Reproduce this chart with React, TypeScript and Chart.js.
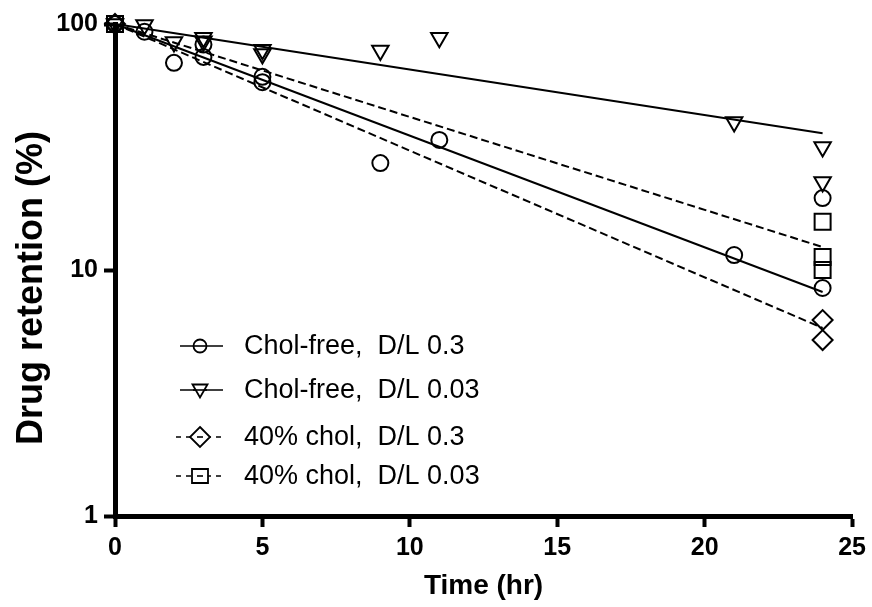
import React, { useEffect, useRef } from 'react';
import { Chart, registerables } from 'chart.js';

Chart.register(...registerables);

// ---- data ----
const xTicks = [0, 5, 10, 15, 20, 25];
const yTicks = [1, 10, 100];

const legendLabels = [
  'Chol-free,  D/L 0.3',
  'Chol-free,  D/L 0.03',
  '40% chol,  D/L 0.3',
  '40% chol,  D/L 0.03',
];

// Chol-free, D/L 0.3 (circles)
const cf03Time = [0, 1, 2, 3, 3, 5, 5, 9, 11, 21, 24, 24];
const cf03Ret = [100, 93, 69.5, 82.5, 73.5, 61, 58, 27.2, 33.8, 11.5, 19.6, 8.45];

// Chol-free, D/L 0.03 (triangles)
const cf003Time = [0, 1, 2, 3, 3, 5, 5, 9, 11, 21, 24, 24];
const cf003Ret = [100, 99, 84.5, 88, 85, 78.5, 75.5, 78, 88, 40, 31.6, 22.8];

// 40% chol, D/L 0.3 (diamonds)
const c403Time = [0, 24, 24];
const c403Ret = [100, 6.26, 5.19];

// 40% chol, D/L 0.03 (squares)
const c4003Time = [0, 24, 24, 24];
const c4003Ret = [100, 15.7, 11.3, 10.0];

// fitted curves (straight on the log axis)
const fitTime = [0, 24];
const cf03Fit = [100, 8.14];
const cf003Fit = [100, 36];
const c403Fit = [100, 5.81];
const c4003Fit = [100, 12.4];

const FONT = '"Liberation Sans", Arial, Helvetica, sans-serif';

const pts = (xs: number[], ys: number[]) => xs.map((x, i) => ({ x, y: ys[i] }));

function drawMarker(ctx: CanvasRenderingContext2D, kind: string, x: number, y: number) {
  ctx.beginPath();
  if (kind === 'circle') {
    ctx.arc(x, y, 6.5, 0, Math.PI * 2);
  } else if (kind === 'triangle') {
    ctx.moveTo(x - 7.5, y - 5.5);
    ctx.lineTo(x + 7.5, y - 5.5);
    ctx.lineTo(x, y + 7.5);
    ctx.closePath();
  } else if (kind === 'diamond') {
    ctx.moveTo(x, y - 10);
    ctx.lineTo(x + 10, y);
    ctx.lineTo(x, y + 10);
    ctx.lineTo(x - 10, y);
    ctx.closePath();
  } else {
    ctx.rect(x - 8, y - 7, 16, 14);
  }
  ctx.fillStyle = '#fff';
  ctx.fill();
  ctx.stroke();
}

const decorPlugin = {
  id: 'decor',
  afterDraw(chart: any) {
    const ctx: CanvasRenderingContext2D = chart.ctx;
    const ca = chart.chartArea;
    ctx.save();
    ctx.fillStyle = '#000';
    ctx.strokeStyle = '#000';

    // x title
    ctx.font = `bold 28px ${FONT}`;
    ctx.textAlign = 'center';
    ctx.textBaseline = 'alphabetic';
    ctx.fillText('Time (hr)', (ca.left + ca.right) / 2, 594);

    // y title
    ctx.save();
    ctx.translate(42, 288);
    ctx.rotate(-Math.PI / 2);
    ctx.font = `bold 36px ${FONT}`;
    ctx.textAlign = 'center';
    ctx.textBaseline = 'alphabetic';
    ctx.fillText('Drug retention (%)', 0, 0);
    ctx.restore();

    // legend
    const rows = [346, 390, 437, 476];
    const kinds = ['circle', 'triangle', 'diamond', 'square'];
    const dashed = [false, false, true, true];
    rows.forEach((ry, i) => {
      ctx.lineWidth = 1.6;
      ctx.setLineDash(dashed[i] ? [5, 5] : []);
      ctx.beginPath();
      ctx.moveTo(dashed[i] ? 176 : 180, ry);
      ctx.lineTo(dashed[i] ? 222 : 223, ry);
      ctx.stroke();
      ctx.setLineDash([]);
      ctx.lineWidth = 1.8;
      drawMarker(ctx, kinds[i], 200, ry);
      if (dashed[i]) {
        ctx.lineWidth = 1.6;
        ctx.beginPath();
        ctx.moveTo(197, ry);
        ctx.lineTo(203, ry);
        ctx.stroke();
      } else {
        ctx.lineWidth = 1.6;
        ctx.beginPath();
        ctx.moveTo(193, ry);
        ctx.lineTo(207, ry);
        ctx.stroke();
      }
      ctx.fillStyle = '#000';
      ctx.font = `27px ${FONT}`;
      ctx.textAlign = 'left';
      ctx.textBaseline = 'middle';
      ctx.fillText(legendLabels[i], 244, ry + 1);
    });
    ctx.restore();
  },
};

export default function App() {
  const ref = useRef<HTMLCanvasElement | null>(null);

  useEffect(() => {
    if (!ref.current) return;
    const markerBase = {
      showLine: false,
      borderColor: '#000',
      backgroundColor: 'rgba(0,0,0,0)',
      pointBorderColor: '#000',
      pointBackgroundColor: 'rgba(0,0,0,0)',
      pointBorderWidth: 2,
      clip: false as any,
    };
    const fitBase = {
      showLine: true,
      borderColor: '#000',
      borderWidth: 2,
      pointRadius: 0,
      pointHoverRadius: 0,
      fill: false,
      clip: false as any,
    };
    const chart = new Chart(ref.current, {
      type: 'scatter',
      data: {
        datasets: [
          { ...markerBase, label: legendLabels[0], data: pts(cf03Time, cf03Ret), pointStyle: 'circle', pointRadius: 8 },
          { ...markerBase, label: legendLabels[1], data: pts(cf003Time, cf003Ret), pointStyle: 'triangle', pointRotation: 180, pointRadius: 9.5 },
          { ...markerBase, label: legendLabels[2], data: pts(c403Time, c403Ret), pointStyle: 'rectRot', pointRadius: 10 },
          { ...markerBase, label: legendLabels[3], data: pts(c4003Time, c4003Ret), pointStyle: 'rect', pointRadius: 11.3 },
          { ...fitBase, label: 'fit1', data: pts(fitTime, cf03Fit) },
          { ...fitBase, label: 'fit2', data: pts(fitTime, cf003Fit) },
          { ...fitBase, label: 'fit3', data: pts(fitTime, c403Fit), borderDash: [8, 4] },
          { ...fitBase, label: 'fit4', data: pts(fitTime, c4003Fit), borderDash: [8, 4] },
        ] as any,
      },
      options: {
        responsive: false,
        animation: false,
        events: [],
        layout: { padding: { left: 0, right: 19, top: 24, bottom: 0 } },
        plugins: {
          legend: { display: false },
          tooltip: { enabled: false },
        },
        scales: {
          x: {
            type: 'linear',
            min: 0,
            max: 25,
            afterBuildTicks: (s: any) => {
              s.ticks = xTicks.map((v) => ({ value: v }));
            },
            afterFit: (s: any) => {
              s.height = 91;
            },
            ticks: {
              color: '#000',
              padding: 6,
              font: { family: FONT, size: 25, weight: 'bold' },
              maxRotation: 0,
              callback: (v: any) => String(v),
            },
            grid: {
              display: true,
              drawOnChartArea: false,
              drawTicks: true,
              tickLength: 11,
              tickWidth: 4,
              tickColor: '#000',
              color: '#000',
            },
            border: { display: true, color: '#000', width: 5 },
          },
          y: {
            type: 'logarithmic',
            min: 1,
            max: 100,
            position: 'left',
            afterBuildTicks: (s: any) => {
              s.ticks = yTicks.map((v) => ({ value: v }));
            },
            afterFit: (s: any) => {
              s.width = 115;
            },
            ticks: {
              color: '#000',
              padding: 6,
              font: { family: FONT, size: 25, weight: 'bold' },
              callback: (v: any) => String(v),
            },
            grid: {
              display: true,
              drawOnChartArea: false,
              drawTicks: true,
              tickLength: 11,
              tickWidth: 4,
              tickColor: '#000',
              color: '#000',
            },
            border: { display: true, color: '#000', width: 5 },
          },
        },
      },
      plugins: [decorPlugin],
    });
    return () => chart.destroy();
  }, []);

  return (
    <div style={{ position: 'absolute', left: 0, top: 0, width: 872, height: 607, background: '#fff' }}>
      <canvas ref={ref} width={872} height={607} style={{ width: 872, height: 607, display: 'block' }} />
    </div>
  );
}
